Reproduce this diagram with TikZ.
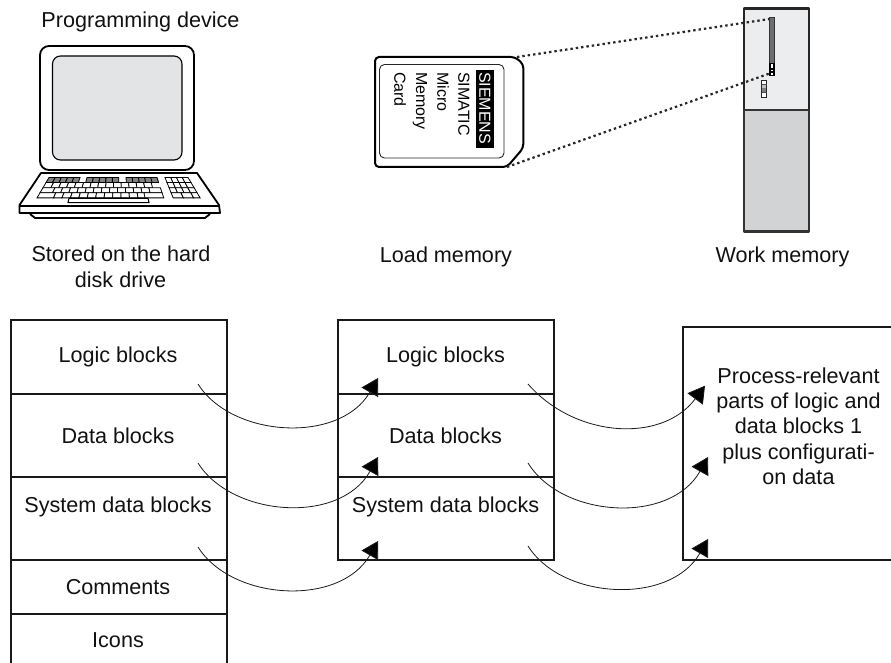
\documentclass[tikz,border=0pt]{standalone}
\usepackage{fontspec}
\setmainfont{Liberation Sans}
\usetikzlibrary{arrows.meta}
\definecolor{screenfill}{HTML}{E3E4E5}
\definecolor{cpulight}{HTML}{ECEDEF}
\definecolor{cpudark}{HTML}{D2D3D5}
\definecolor{slotgray}{HTML}{6D6E70}
\definecolor{txt}{HTML}{111111}
\newcommand{\kbkey}[4]{%
  \pgfmathsetmacro{\sa}{1+(#3-177.5)*0.0085}%
  \pgfmathsetmacro{\sb}{1+(#3+5.1-177.5)*0.0085}%
  \filldraw[keyline,fill=#4] ({118+(#1)*\sa},{#3}) -- ({118+(#2)*\sa},{#3}) -- ({118+(#2)*\sb},{#3+5.1}) -- ({118+(#1)*\sb},{#3+5.1}) -- cycle;}
\tikzset{
  lbl/.style={font=\fontsize{21.6}{25}\selectfont,text=txt,inner sep=0pt,anchor=base},
  cardtxt/.style={font=\fontsize{16}{18}\selectfont,inner sep=0pt,anchor=base west,rotate=-90},
  boxline/.style={draw=black!90,line width=2pt},
  keyline/.style={draw=black,line width=.8pt},
  hw/.style={draw=black,line width=1.8pt,line join=round},
  memarrow/.style={line width=.8pt,draw=black!90,-{Triangle[length=16.5pt,width=19pt,fill=black]}},
  linkdots/.style={line width=2.2pt,draw=black!85,dash pattern=on 2.4pt off 3pt}
}
\begin{document}
\begin{tikzpicture}[x=1pt,y=-1pt]
\useasboundingbox (0,0) rectangle (891,663);
% --- laptop
\draw[hw,rounded corners=9pt] (40,46) rectangle (194,170);
\draw[hw,line width=1.1pt,fill=screenfill,rounded corners=8pt] (52.5,56) rectangle (182,160);
\draw[hw,fill=white] (41,173) -- (197,173) -- (219,205) -- (220,213) -- (19.5,213) -- (19.5,205) -- cycle;
\draw[hw] (19.5,206) -- (220,206);
\draw[hw] (30,214) -- (35,218) -- (205,218) -- (210,214);
\foreach \a in {-69,-62.8,-56.6,-50.4,-44.2,-31,-24.6,-18.2,-11.8,-5.4,8,14.2,20.4,26.6,32.8}{\kbkey{\a}{\a+6.2}{177.5}{black!50}}
\foreach \a in {47,52.75,58.5,64.25}{\kbkey{\a}{\a+5.75}{177.5}{white}}
\foreach \a in {-69,-61.8,...,31}{\kbkey{\a}{\a+7.2}{182.6}{white}}
\foreach \a in {47,52.75,58.5,64.25}{\kbkey{\a}{\a+5.75}{182.6}{white}}
\kbkey{-69}{-58}{187.7}{white}
\foreach \a in {-58,-50.8,...,25}{\kbkey{\a}{\a+7.2}{187.7}{white}}
\kbkey{28.4}{39}{187.7}{white}
\foreach \a in {47,52.75,58.5,64.25}{\kbkey{\a}{\a+5.75}{187.7}{white}}
\kbkey{-69}{-55}{192.8}{white}
\foreach \a in {-55,-47.8,...,18}{\kbkey{\a}{\a+7.2}{192.8}{white}}
\kbkey{23}{39}{192.8}{white}
\foreach \a in {47,55.75}{\kbkey{\a}{\a+8.75}{192.8}{white}}
\kbkey{64.5}{70}{192.8}{white}
\filldraw[keyline,line width=1.1pt,fill=white] (69,198.3) -- (148,198.3) -- (149,202.6) -- (68,202.6) -- cycle;
% --- memory card
\draw[hw,line width=2pt,fill=white,rounded corners=4pt] (375,57) -- (515,57) -- (523.3,64) -- (523.3,148) -- (507,167) -- (375,167) -- cycle;
\draw[line width=.9pt,draw=black!85,rounded corners=5pt] (379.5,64.5) rectangle (504,158);
\fill[black] (476,70) rectangle (494.3,148);
\node[cardtxt,text=white] (siemens) at (479.3,72) {SIEMENS};
\node[cardtxt] (simatic) at (458.3,72) {SIMATIC};
\node[cardtxt] (micro) at (437.3,72) {Micro};
\node[cardtxt] (memory) at (416,72) {Memory};
\node[cardtxt] (card) at (394.3,72) {Card};
% --- CPU
\filldraw[hw,line width=2.2pt,draw=black!85,fill=cpulight] (744,8.5) rectangle (809,110);
\filldraw[hw,line width=2.2pt,draw=black!80,fill=cpudark] (744,110) rectangle (809,231.5);
\filldraw[draw=black!80,line width=1pt,fill=slotgray] (769.5,18) rectangle (774.3,76);
\fill[black] (769.2,63) rectangle (774.6,76.4);
\fill[white] (770.5,64.5) rectangle (773.3,68);
\fill[white] (770.5,70) rectangle (773.3,71.5);
\fill[white] (771,72.8) rectangle (773,74.6);
\filldraw[draw=black!85,line width=.9pt,fill=white] (761.5,80.5) rectangle (766.5,97);
\fill[black!25] (762,84.5) rectangle (766,88.5);
\fill[black!50] (762,88.5) rectangle (766,92.5);
\draw[black!70,line width=.6pt] (761.5,84.5) -- (766.5,84.5) (761.5,92.5) -- (766.5,92.5);
% --- dotted link lines
\coordinate (cardtop) at (517,57);
\coordinate (cardbot) at (507,167);
\coordinate (slottop) at (769.5,19);
\coordinate (slotbot) at (769.5,73.5);
\draw[linkdots] (cardtop) -- (slottop);
\draw[linkdots] (cardbot) -- (slotbot);
% --- top labels
\node[lbl] (pg) at (140.5,28) {Programming device};
\node[lbl] (hd1) at (121,261.5) {Stored on the hard};
\node[lbl] (hd2) at (120.5,287.5) {disk drive};
\node[lbl] (lm) at (446,262.3) {Load memory};
\node[lbl] (wm) at (782.5,262.3) {Work memory};
% --- left column
\draw[boxline] (11,663) -- (11,319.5) -- (227,319.5) -- (227,663);
\foreach \yy in {394,477,560,614}{\draw[boxline] (11,\yy) -- (227,\yy);}
\node[lbl] (l1) at (118,362) {Logic blocks};
\node[lbl] (l2) at (118,443.5) {Data blocks};
\node[lbl] (l3) at (118,512) {System data blocks};
\node[lbl] (l4) at (118,594.5) {Comments};
\node[lbl] (l5) at (118,647) {Icons};
% --- middle column
\draw[boxline] (338,319.5) rectangle (553.7,560);
\foreach \yy in {394,477}{\draw[boxline] (338,\yy) -- (553.7,\yy);}
\node[lbl] (m1) at (445.5,362) {Logic blocks};
\node[lbl] (m2) at (445.5,443) {Data blocks};
\node[lbl] (m3) at (445.5,512) {System data blocks};
% --- right box
\draw[boxline] (891,327) -- (683.3,327) -- (683.3,560) -- (891,560);
\node[lbl] (r1) at (798.5,383) {Process-relevant};
\node[lbl] (r2) at (798.5,408.3) {parts of logic and};
\node[lbl] (r3) at (798.5,433.6) {data blocks 1};
\node[lbl] (r4) at (798.5,459) {plus configurati-};
\node[lbl] (r5) at (798.5,484.3) {on data};
% --- arrows
\coordinate (a1s) at (198,384);    \coordinate (a1t) at (378,378);
\coordinate (a2s) at (198,463);    \coordinate (a2t) at (378,457);
\coordinate (a3s) at (198,547);    \coordinate (a3t) at (378,541);
\coordinate (b1s) at (528,384);    \coordinate (b1t) at (705,385.7);
\coordinate (b2s) at (528,463);    \coordinate (b2t) at (708,457);
\coordinate (b3s) at (528,546);    \coordinate (b3t) at (708,539);
\draw[memarrow] (a1s) .. controls (232,438) and (340,444) .. (a1t);
\draw[memarrow] (a2s) .. controls (232,517) and (340,525) .. (a2t);
\draw[memarrow] (a3s) .. controls (232,601) and (340,607) .. (a3t);
\draw[memarrow] (b1s) .. controls (575,438) and (662,443.5) .. (b1t);
\draw[memarrow] (b2s) .. controls (562,518) and (670,524.7) .. (b2t);
\draw[memarrow] (b3s) .. controls (562,600) and (670,605.5) .. (b3t);
\end{tikzpicture}
\end{document}
